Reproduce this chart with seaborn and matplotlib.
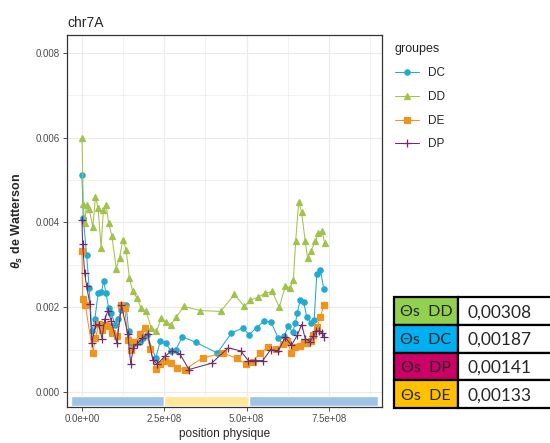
import numpy as np
import pandas as pd
import matplotlib as mpl
import matplotlib.pyplot as plt
from matplotlib.patches import Rectangle
import seaborn as sns

# ------------------------------------------------ data ------------------------------------------------ #
dc_pos = [0, 0.04, 0.14, 0.22, 0.30, 0.39, 0.49, 0.59, 0.66, 0.73, 0.81, 0.89, 1.00, 1.10, 1.20, 1.34, 1.42, 1.50,
          1.63, 1.75, 1.85, 1.97, 2.24, 2.38, 2.54, 2.71, 2.85, 3.05, 3.46, 4.11, 4.54, 4.88, 5.08, 5.30, 5.53, 5.74,
          5.96, 6.14, 6.26, 6.40, 6.48, 6.54, 6.63, 6.73, 6.83, 6.95, 7.05, 7.13, 7.24, 7.34]
dc_theta = [0.00511, 0.0041, 0.00324, 0.00245, 0.00143, 0.00171, 0.00233, 0.00236, 0.00261, 0.00233, 0.00198, 0.00187,
            0.00159, 0.00171, 0.00194, 0.00204, 0.00143, 0.00116, 0.00116, 0.00119, 0.00127, 0.00135, 0.0008, 0.00121,
            0.00115, 0.00096, 0.0010, 0.0013, 0.00117, 0.00092, 0.00139, 0.00151, 0.00135, 0.00152, 0.00167, 0.00165,
            0.00127, 0.00131, 0.00155, 0.00141, 0.00163, 0.00187, 0.00218, 0.00212, 0.00176, 0.00163, 0.00169, 0.00278,
            0.00288, 0.00244]

dd_pos = [0, 0.04, 0.08, 0.14, 0.22, 0.33, 0.41, 0.49, 0.58, 0.65, 0.73, 0.81, 0.91, 1.04, 1.14, 1.24, 1.34, 1.44,
          1.54, 1.67, 1.80, 1.95, 2.10, 2.26, 2.41, 2.54, 2.69, 2.87, 3.09, 3.58, 4.21, 4.63, 4.93, 5.10, 5.36, 5.56,
          5.78, 5.99, 6.18, 6.32, 6.42, 6.49, 6.58, 6.67, 6.78, 6.85, 6.95, 7.08, 7.18, 7.29, 7.37]
dd_theta = [0.0060, 0.00443, 0.00399, 0.00442, 0.00432, 0.00388, 0.00461, 0.00434, 0.0034, 0.0043, 0.00442, 0.00399,
            0.00367, 0.00291, 0.00316, 0.00359, 0.00336, 0.00269, 0.00237, 0.00222, 0.00197, 0.0019, 0.00151, 0.00143,
            0.00174, 0.00165, 0.00159, 0.00177, 0.00202, 0.00192, 0.0019, 0.0023, 0.00202, 0.00216, 0.00224, 0.00233,
            0.00237, 0.0020, 0.00251, 0.00245, 0.00265, 0.00357, 0.00448, 0.00424, 0.00355, 0.00316, 0.00332, 0.00355,
            0.00375, 0.00379, 0.00351]

de_pos = [0, 0.02, 0.10, 0.33, 0.41, 0.51, 0.61, 0.71, 0.81, 0.91, 1.06, 1.20, 1.30, 1.40, 1.48, 1.61, 1.75, 1.91,
          2.07, 2.24, 2.36, 2.52, 2.70, 2.89, 3.12, 3.66, 4.29, 4.70, 4.98, 5.18, 5.41, 5.65, 5.89, 6.10, 6.22, 6.36,
          6.48, 6.61, 6.73, 6.83, 6.95, 7.03, 7.13, 7.24, 7.34]
de_theta = [0.00332, 0.0022, 0.00206, 0.00092, 0.00127, 0.0016, 0.00147, 0.00157, 0.00156, 0.00139, 0.00131, 0.00204,
            0.00198, 0.00123, 0.0010, 0.00118, 0.00137, 0.00152, 0.00102, 0.00055, 0.00066, 0.00074, 0.00068, 0.00057,
            0.00053, 0.0008, 0.00092, 0.00079, 0.00066, 0.00071, 0.00092, 0.00105, 0.00102, 0.00112, 0.00121, 0.00092,
            0.00105, 0.00108, 0.00118, 0.00116, 0.00121, 0.00135, 0.00153, 0.00177, 0.00204]

dp_pos = [0, 0.02, 0.08, 0.14, 0.24, 0.30, 0.41, 0.51, 0.61, 0.69, 0.79, 0.89, 1.06, 1.20, 1.39, 1.48, 1.56, 1.67,
          1.83, 2.00, 2.15, 2.28, 2.52, 2.72, 2.97, 3.25, 3.94, 4.44, 4.82, 5.05, 5.25, 5.49, 5.73, 5.96, 6.17, 6.36,
          6.54, 6.67, 6.78, 6.91, 7.03, 7.11, 7.21, 7.30, 7.36]
dp_theta = [0.00406, 0.00349, 0.00281, 0.0025, 0.00208, 0.00116, 0.00159, 0.00159, 0.00126, 0.00171, 0.00192, 0.00167,
            0.00116, 0.00204, 0.00137, 0.00067, 0.00104, 0.00113, 0.00127, 0.00137, 0.00076, 0.00066, 0.00084, 0.00097,
            0.0009, 0.00053, 0.00068, 0.00104, 0.00097, 0.00074, 0.00074, 0.00074, 0.0010, 0.00097, 0.00129, 0.0011,
            0.00134, 0.00159, 0.00126, 0.00119, 0.00131, 0.00145, 0.00143, 0.00139, 0.00129]

# chromosome band under the curves (start, end, colour)
band_start = [-0.33e8, 2.5e8, 5.07e8]
band_end = [2.5e8, 5.07e8, 9.0e8]
band_colors = ['#9DC3E6', '#FFE699', '#9DC3E6']

x_ticks = [0, 2.5e8, 5e8, 7.5e8]
x_ticklabels = ['0.0e+00', '2.5e+08', '5.0e+08', '7.5e+08']
y_ticks = [0, 0.002, 0.004, 0.006, 0.008]
y_ticklabels = ['0.000', '0.002', '0.004', '0.006', '0.008']

table_labels = ['Θs  DD', 'Θs  DC', 'Θs  DP', 'Θs  DE']
table_values = ['0,00308', '0,00187', '0,00141', '0,00133']
table_colors = ['#92D050', '#00B0F0', '#CC0066', '#FFC000']

groups = ['DC', 'DD', 'DE', 'DP']
colors = {'DC': '#22AAD2', 'DD': '#A3C24C', 'DE': '#F0941E', 'DP': '#6E2C6C'}
markers = {'DC': 'o', 'DD': '^', 'DE': 's', 'DP': '+'}

frames = []
for g, p, t in [('DC', dc_pos, dc_theta), ('DD', dd_pos, dd_theta), ('DE', de_pos, de_theta), ('DP', dp_pos, dp_theta)]:
    frames.append(pd.DataFrame({'pos': np.array(p) * 1e8, 'theta': t, 'groupe': g}))
data = pd.concat(frames, ignore_index=True)

# ---------------------------------------------- plot ---------------------------------------------- #
sns.set_style('white')
plt.rcParams['font.family'] = ['Liberation Sans', 'DejaVu Sans']
plt.rcParams['mathtext.fontset'] = 'custom'
plt.rcParams['mathtext.it'] = 'Liberation Sans:italic:bold'
plt.rcParams['mathtext.rm'] = 'Liberation Sans:bold'

fig = plt.figure(figsize=(5.5, 4.43), dpi=100)
ax = fig.add_axes([0.1218, 0.0813, 0.5727, 0.8397])

ax.barh(y=-0.000215, width=np.array(band_end) - np.array(band_start), left=band_start, height=0.00023,
        color=band_colors, zorder=2)

for g in groups:
    sub = data[data['groupe'] == g]
    sns.lineplot(data=sub, x='pos', y='theta', ax=ax, color=colors[g], marker=markers[g],
                 markersize=3.8 if g != 'DP' else 6, markeredgecolor=colors[g], markeredgewidth=0.9,
                 linewidth=0.75, label=g, sort=False, zorder=3)

ax.set_xlim(-0.455e8, 9.11e8)
ax.set_ylim(-0.000354, 0.00842)
ax.set_xticks(x_ticks)
ax.set_xticklabels(x_ticklabels)
ax.set_yticks(y_ticks)
ax.set_yticklabels(y_ticklabels)
ax.set_xticks([1.25e8, 3.75e8, 6.25e8, 8.75e8], minor=True)
ax.set_yticks([0.001, 0.003, 0.005, 0.007], minor=True)
ax.grid(True, which='major', color='#EBEBEB', linewidth=0.8, zorder=0)
ax.grid(True, which='minor', color='#EBEBEB', linewidth=0.5, zorder=0)
ax.set_axisbelow(True)
ax.tick_params(which='major', length=3, width=0.6, color='#333333', labelsize=7, labelcolor='#4D4D4D',
               left=True, bottom=True, pad=2)
ax.tick_params(which='minor', length=0)
for s in ax.spines.values():
    s.set_color('#333333')
    s.set_linewidth(0.9)

ax.set_xlabel('position physique', fontsize=8.5, labelpad=3)
ax.set_ylabel(r'$\theta_s$ de Watterson', fontsize=9, fontweight='bold', labelpad=8)
ax.set_title('chr7A', loc='left', fontsize=10, pad=6)

leg = ax.legend(title='groupes', loc='upper left', bbox_to_anchor=(1.015, 1.0), frameon=False,
                fontsize=8.5, title_fontsize=9, handlelength=2.0, labelspacing=1.0, borderaxespad=0.3)
leg._legend_box.align = 'left'

# ---------------------------------------------- table at bottom right ---------------------------------------------- #
tax = fig.add_axes([394 / 550, 1 - 408 / 443, 156 / 550, 111 / 443])
tax.set_xlim(0, 156)
tax.set_ylim(4, 0)
tax.axis('off')
for i, (lab, val, col) in enumerate(zip(table_labels, table_values, table_colors)):
    tax.add_patch(Rectangle((0, i), 64, 1, facecolor=col, edgecolor='black', linewidth=1.6, clip_on=False))
    tax.add_patch(Rectangle((64, i), 95, 1, facecolor='white', edgecolor='black', linewidth=1.6, clip_on=False))
    tax.text(32, i + 0.55, lab, ha='center', va='center', fontsize=11.5, family=['Lato', 'DejaVu Sans'])
    tax.text(106, i + 0.55, val, ha='center', va='center', fontsize=12.5, family=['Lato', 'DejaVu Sans'])

fig.savefig('out.png', dpi=100)
